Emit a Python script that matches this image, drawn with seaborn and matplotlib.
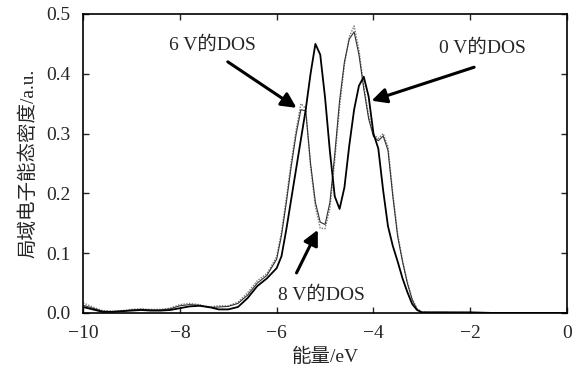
import numpy as np
import pandas as pd
import matplotlib
matplotlib.use("Agg")
import matplotlib.pyplot as plt
import seaborn as sns

# energy grid (eV) shared by the three DOS curves
energy = [-10.0, -9.8, -9.6, -9.4, -9.2, -9.0, -8.8, -8.6, -8.4, -8.2,
          -8.0, -7.8, -7.6, -7.4, -7.2, -7.0, -6.8, -6.6, -6.4, -6.2,
          -6.0, -5.9, -5.8, -5.7, -5.6, -5.5, -5.4, -5.3, -5.2, -5.1,
          -5.0, -4.9, -4.8, -4.7, -4.6, -4.5, -4.4, -4.3, -4.2, -4.1,
          -4.0, -3.9, -3.8, -3.7, -3.6, -3.5, -3.4, -3.3, -3.2, -3.1,
          -3.0, -2.8, -2.5, -2.0, -1.5, -1.0, -0.5, 0.0]

dos_0v = [0.010, 0.006, 0.002, 0.002, 0.003, 0.004, 0.005, 0.004, 0.004, 0.005,
          0.008, 0.011, 0.012, 0.010, 0.006, 0.006, 0.010, 0.025, 0.045, 0.058,
          0.075, 0.095, 0.140, 0.190, 0.240, 0.290, 0.340, 0.400, 0.450, 0.432,
          0.360, 0.270, 0.195, 0.174, 0.210, 0.280, 0.340, 0.380, 0.395, 0.362,
          0.300, 0.275, 0.205, 0.145, 0.112, 0.086, 0.058, 0.035, 0.015, 0.005,
          0.001, 0.001, 0.001, 0.001, 0.000, 0.000, 0.000, 0.000]

dos_6v = [0.013, 0.008, 0.003, 0.002, 0.003, 0.005, 0.006, 0.005, 0.005, 0.007,
          0.012, 0.014, 0.013, 0.009, 0.010, 0.011, 0.016, 0.030, 0.050, 0.063,
          0.090, 0.130, 0.185, 0.245, 0.298, 0.340, 0.338, 0.250, 0.185, 0.152,
          0.148, 0.185, 0.265, 0.355, 0.420, 0.458, 0.470, 0.432, 0.375, 0.325,
          0.295, 0.288, 0.296, 0.272, 0.195, 0.128, 0.086, 0.050, 0.022, 0.006,
          0.001, 0.001, 0.001, 0.000, 0.000, 0.000, 0.000, 0.000]

dos_8v = [0.017, 0.010, 0.004, 0.003, 0.004, 0.006, 0.007, 0.006, 0.006, 0.008,
          0.014, 0.016, 0.014, 0.010, 0.012, 0.012, 0.018, 0.034, 0.054, 0.066,
          0.094, 0.136, 0.192, 0.252, 0.305, 0.350, 0.342, 0.245, 0.178, 0.142,
          0.141, 0.175, 0.255, 0.345, 0.415, 0.462, 0.480, 0.440, 0.380, 0.330,
          0.298, 0.292, 0.300, 0.278, 0.200, 0.132, 0.088, 0.052, 0.024, 0.007,
          0.002, 0.001, 0.001, 0.001, 0.000, 0.000, 0.000, 0.000]

# annotation labels: text position, arrow tail, arrow head (data coords)
labels = ["6 V的DOS", "0 V的DOS", "8 V的DOS"]
label_pos = [(-7.32, 0.448), (-1.75, 0.443), (-5.07, 0.030)]
arrow_tail = [(-7.01, 0.420), (-1.92, 0.411), (-5.59, 0.067)]
arrow_head = [(-5.59, 0.343), (-4.04, 0.355), (-5.15, 0.139)]

sns.set_style("ticks")
plt.rcParams["font.family"] = ["Liberation Serif", "Noto Sans CJK SC"]

fig = plt.figure(figsize=(5.81, 3.78), dpi=100)
ax = fig.add_axes([0.143, 0.172, 0.833, 0.791])

sns.lineplot(x=energy, y=dos_8v, ax=ax, color="#777777", lw=1.0, linestyle=(0, (1, 1)))
sns.lineplot(x=energy, y=dos_6v, ax=ax, color="#333333", lw=0.8)
sns.lineplot(x=energy, y=dos_0v, ax=ax, color="black", lw=1.3)

ax.set_xlim(-10, 0)
ax.set_ylim(0, 0.5)
ax.set_xticks([-10, -8, -6, -4, -2, 0])
ax.set_yticks([0.0, 0.1, 0.2, 0.3, 0.4, 0.5])
ax.set_yticklabels([f"{v:.1f}" for v in [0.0, 0.1, 0.2, 0.3, 0.4, 0.5]])
ax.tick_params(direction="in", top=True, right=True, labelsize=14, length=4, width=1)
ax.tick_params(axis="x", pad=9)
ax.tick_params(axis="y", pad=9)
for s in ax.spines.values():
    s.set_linewidth(1.2)
    s.set_color("black")

ax.set_xlabel("能量/eV", fontsize=14, labelpad=4)
ax.set_ylabel("局域电子能态密度/a.u.", fontsize=14, labelpad=6)

arrow = dict(arrowstyle="-|>,head_length=0.9,head_width=0.45", color="black", lw=2.2,
             shrinkA=0, shrinkB=0)
for lab, pos, tail, head in zip(labels, label_pos, arrow_tail, arrow_head):
    ax.text(pos[0], pos[1], lab, ha="center", va="center", fontsize=14)
    ax.annotate("", xy=head, xytext=tail, arrowprops=arrow)

plt.savefig("out.png", dpi=100)
plt.close()
